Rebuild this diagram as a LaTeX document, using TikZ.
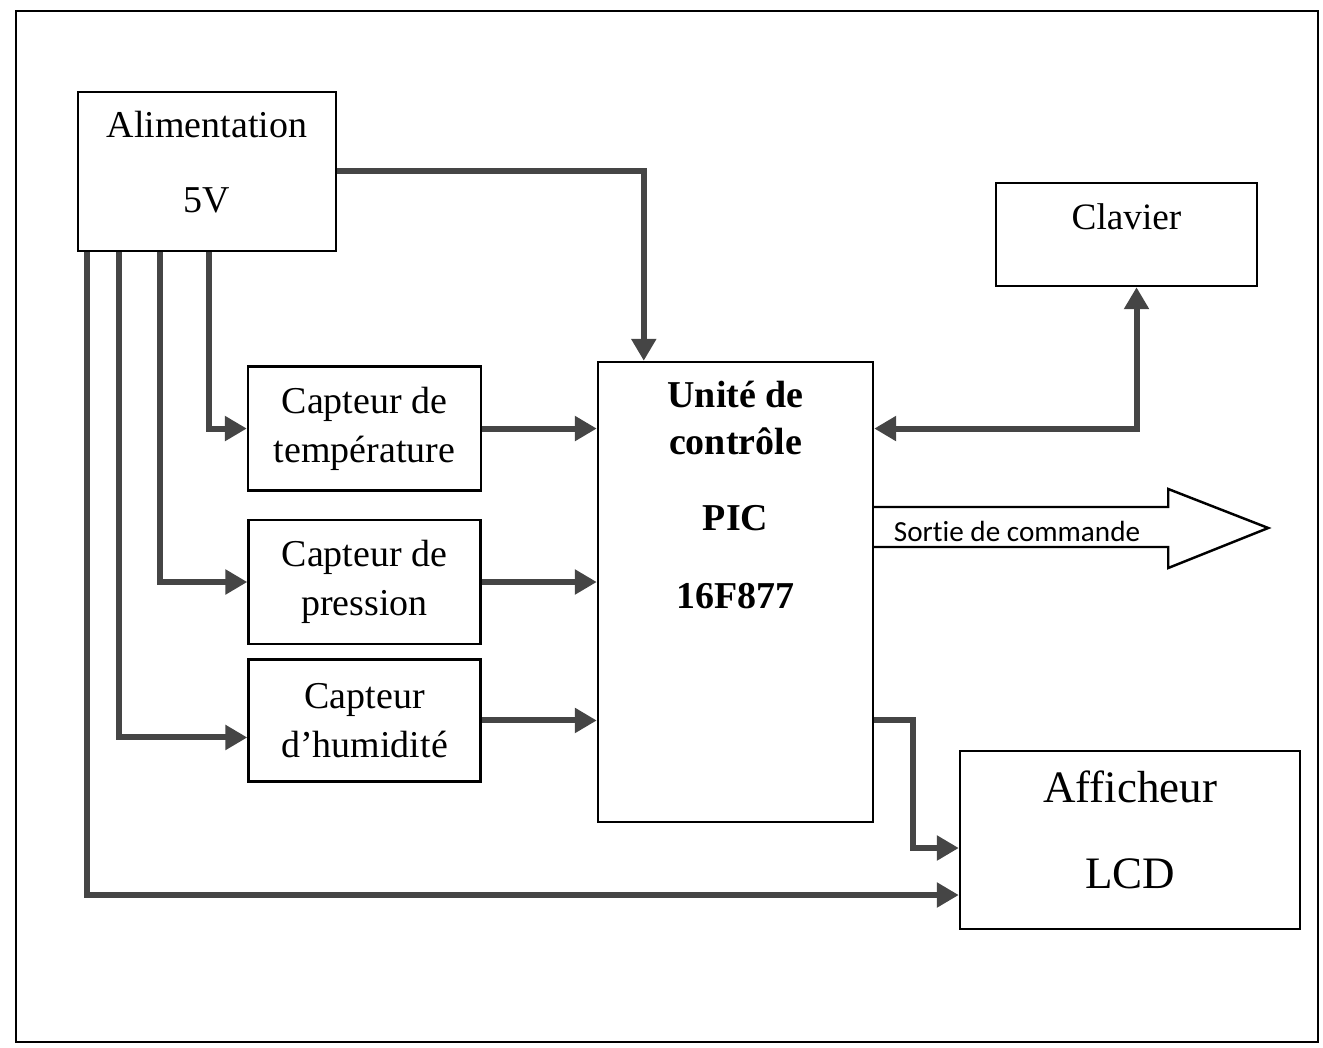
\documentclass[tikz,border=0pt]{standalone}
\usepackage{fontspec}
\setmainfont{Liberation Serif}
\newfontfamily\sortiefont[Ligatures=NoCommon]{Carlito}
\usetikzlibrary{arrows.meta, positioning, calc}
\definecolor{wiregray}{HTML}{454545}
\tikzset{
  bloc/.style={rectangle, draw=black, line width=0.7pt, align=center},
  wire/.style={draw=wiregray, line width=0.06cm, -{Triangle[length=0.22cm, width=0.24cm]}},
  wireboth/.style={wire, {Triangle[length=0.22cm, width=0.24cm]}-{Triangle[length=0.22cm, width=0.24cm]}},
}
\begin{document}
\begin{tikzpicture}[font=\fontsize{10.8}{13.9}\selectfont]
\useasboundingbox (0,0) rectangle (13.23,10.47);
\draw[line width=0.6pt] (0.16,0.05) rectangle (13.18,10.36);

% blocs
\node[bloc, minimum width=2.75cm, minimum height=4.6cm] (pic) at (7.355,4.55) {};
\node[below=0.2cm of pic.north, inner sep=0, align=center, font=\bfseries\fontsize{10.8}{13.4}\selectfont] (picTxt) {Unité de\\contrôle\\[8.2pt]PIC\\[8.8pt]16F877};
\node[bloc, minimum width=2.32cm, minimum height=1.24cm, left=1.15cm of pic, yshift=0.1cm] (pres) {Capteur de\\pression};
\node[bloc, minimum width=2.33cm, minimum height=1.24cm, above=0.27cm of pres] (temp) {Capteur de\\température};
\node[bloc, minimum width=2.32cm, minimum height=1.22cm, below=0.13cm of pres] (hum) {Capteur\\d’humidité};
\node[bloc, minimum width=2.58cm, minimum height=1.59cm, text depth=0.2cm, font=\fontsize{10.8}{21.3}\selectfont] (alim) at (2.07,8.755) {Alimentation\\5V};
\node[bloc, minimum width=2.61cm, minimum height=1.03cm] (clav) at (11.265,8.125) {};
\node[below=0.21cm of clav.north, inner sep=0, font=\fontsize{10.6}{13}\selectfont] (clavTxt) {Clavier};
\node[bloc, minimum width=3.4cm, minimum height=1.78cm, text depth=0.2cm, font=\fontsize{12.8}{24.5}\selectfont] (lcd) at (11.30,2.07) {Afficheur\\LCD};

% alimentation
\draw[wire] (alim.east) -| ([xshift=0.47cm]pic.north west);
\draw[wire] ([xshift=1.32cm]alim.south west) |- (temp.west);
\draw[wire] ([xshift=0.83cm]alim.south west) |- (pres.west);
\draw[wire] ([xshift=0.42cm]alim.south west) |- ([yshift=-0.17cm]hum.west);
\draw[wire] ([xshift=0.10cm]alim.south west) |- ([yshift=-0.55cm]lcd.west);

% capteurs vers PIC
\draw[wire] (temp.east) -- (temp.east -| pic.west);
\draw[wire] (pres.east) -- (pres.east -| pic.west);
\draw[wire] (hum.east) -- (hum.east -| pic.west);

% clavier, afficheur
\draw[wireboth] ([xshift=0.1cm]clav.south) |- (pic.east |- temp.east);
\draw[wire] (pic.east |- hum.east) -- ++(0.39,0) |- ([yshift=-0.08cm]lcd.west);

% sortie de commande
\draw[line width=0.7pt] ([yshift=0.85cm]pic.east) -- ++(2.94,0) -- ++(0,0.18) -- ++(1.0,-0.39) -- ++(-1.0,-0.40) -- ++(0,0.21) -- ([yshift=0.45cm]pic.east);
\node[anchor=west, inner sep=0, font=\sortiefont\fontsize{8.3}{10}\selectfont] (sortie) at ([xshift=0.19cm, yshift=0.61cm]pic.east) {Sortie de commande};
\end{tikzpicture}
\end{document}
